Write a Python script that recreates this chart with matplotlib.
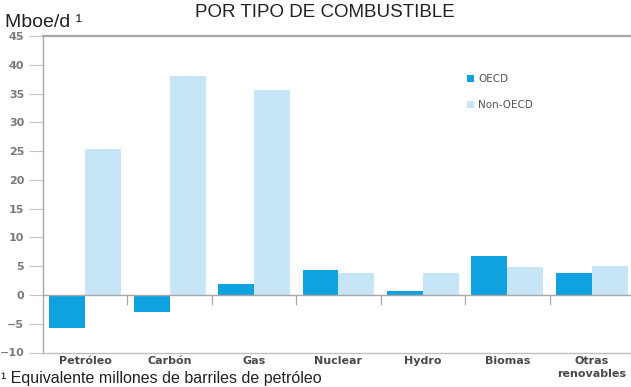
import numpy as np
import matplotlib
matplotlib.use("Agg")
import matplotlib.pyplot as plt

categories = ["Petróleo", "Carbón", "Gas", "Nuclear", "Hydro", "Biomas", "Otras\nrenovables"]
oecd = [-5.8, -3.0, 1.9, 4.3, 0.7, 6.8, 3.9]
non_oecd = [25.4, 38.0, 35.7, 3.9, 3.9, 4.9, 5.1]
yticks = [-10, -5, 0, 5, 10, 15, 20, 25, 30, 35, 40, 45]

c_oecd = "#0fa1e0"
c_non = "#c6e6f8"
grey = "#a8a8a8"

fig = plt.figure(figsize=(6.31, 3.87), dpi=100)
ax = fig.add_axes([43 / 631, 34.5 / 387, 588 / 631, 316.5 / 387])

x = np.arange(len(categories))
w = 0.425
ax.bar(x - w / 2, oecd, width=w, color=c_oecd, label="OECD", zorder=2)
ax.bar(x + w / 2, non_oecd, width=w, color=c_non, label="Non-OECD", zorder=2)

ax.set_xlim(-0.5, len(categories) - 0.5 - 3 / 84.5)
ax.set_ylim(-10, 45)

# zero baseline with small separator ticks between groups
ax.axhline(0, color=grey, lw=1.0, zorder=3)
for b in x[:-1] + 0.5:
    ax.plot([b, b], [0, -1.6], color=grey, lw=0.9, zorder=3)

for s in ["left", "top", "bottom"]:
    ax.spines[s].set_color(grey)
ax.spines["top"].set_linewidth(1.6)
ax.spines["left"].set_linewidth(1.0)
ax.spines["bottom"].set_color("#c0c0c0")
ax.spines["bottom"].set_linewidth(1.0)
ax.spines["right"].set_visible(False)

ax.set_yticks(yticks)
ax.tick_params(axis="y", length=10, width=0.8, color="#c4c4c4", labelsize=8,
               labelcolor="#7a7a7a", pad=3.5)
for t in ax.get_yticklabels():
    t.set_fontweight("bold")
ax.set_xticks(x)
ax.set_xticklabels(categories, fontsize=8, fontweight="bold", color="#4a4a4a",
                   linespacing=1.35, va="top")
ax.tick_params(axis="x", length=0, pad=2.5)

leg = ax.legend(loc="upper left", bbox_to_anchor=(0.705, 0.91), frameon=False,
                fontsize=7.5, handlelength=0.7, handleheight=0.7,
                handletextpad=0.4, labelspacing=1.55)
for t in leg.get_texts():
    t.set_color("#555555")

fig.text(325 / 631, 1 - 12.5 / 387, "POR TIPO DE COMBUSTIBLE", ha="center", va="center",
         fontsize=13.5, family="Liberation Sans", color="#222222")
fig.text(5 / 631, 1 - 27 / 387, "Mboe/d ¹", ha="left", va="baseline",
         fontsize=14, family="Liberation Sans", color="#222222")
fig.text(1 / 631, 1 - 383.5 / 387, "¹ Equivalente millones de barriles de petróleo",
         ha="left", va="baseline", fontsize=11.5, family="Liberation Sans", color="#222222")

fig.savefig("out.png", dpi=100)
